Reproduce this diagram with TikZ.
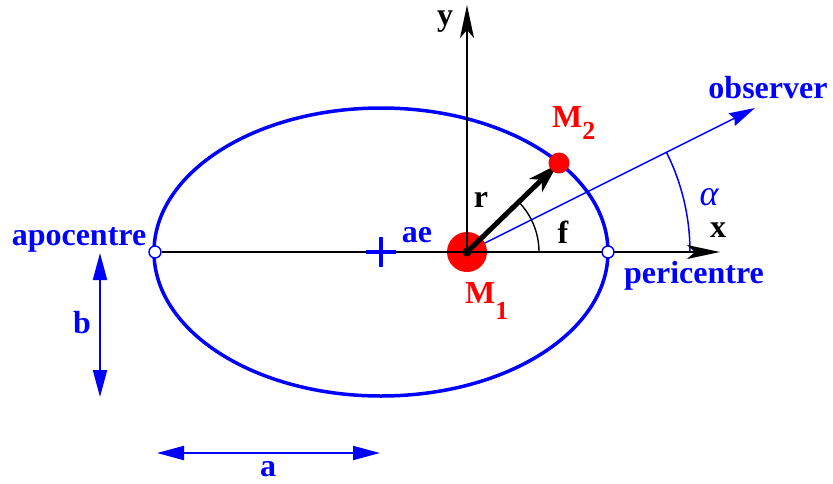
\documentclass[tikz,border=0pt]{standalone}
\usepackage{fontspec}
\setmainfont{Liberation Serif}
\usetikzlibrary{arrows.meta}
\definecolor{myblue}{RGB}{0,0,255}
\definecolor{myred}{RGB}{255,0,0}
\begin{document}
\begin{tikzpicture}[x=1pt,y=1pt,
  lbl/.style={font=\fontsize{32}{36}\selectfont\bfseries, inner sep=0pt, anchor=base},
  bluelbl/.style={lbl, text=myblue},
  redlbl/.style={lbl, text=myred, anchor=base west},
  axisline/.style={line width=1.5pt, -{Stealth[length=33pt,width=14pt,inset=8pt]}},
  dimarrow/.style={myblue, line width=2pt, {Triangle[length=27pt,width=14pt]}-{Triangle[length=27pt,width=14pt]}},
  apsis/.style={circle, draw=myblue, fill=white, line width=1.4pt, minimum size=12pt, inner sep=0pt}
]
\useasboundingbox (0,0) rectangle (833,-483);
% key points
\coordinate (C) at (381,-252);
\coordinate (M1c) at (467,-252);
\coordinate (M2c) at (559,-163);
\coordinate (xtip) at (720,-252);
\coordinate (ytip) at (467,-5);
\coordinate (obs) at (755,-108);
% observer line and alpha arc
\draw[myblue, line width=1.5pt, -{Stealth[length=26pt,width=14pt,inset=3pt]}] (M1c) -- (obs);
\draw[myblue, line width=1.5pt] (690,-252) arc[start angle=0, end angle=26.5, radius=223];
% orbit
\draw[myblue, line width=3.5pt] (C) ellipse [x radius=227, y radius=144];
% central body
\node[circle, fill=myred, minimum size=40pt, inner sep=0pt] (M1) at (M1c) {};
% apsides
\node[apsis] (apo) at (155,-252) {};
% axes
\draw[axisline] (apo.east) -- (xtip);
\draw[axisline] (M1c) -- (ytip);
\node[apsis] (peri) at (608,-252) {};
% angle f
\draw[line width=1.4pt] (539,-252) arc[start angle=0, end angle=44, radius=72];
% radius vector
\draw[line width=5pt, -{Stealth[length=30pt,width=18pt,inset=8pt]}, shorten >=2pt] (M1c) -- (M2c);
\node[circle, fill=black, minimum size=9pt, inner sep=0pt] (dot) at (M1c) {};
\node[circle, fill=myred, minimum size=21pt, inner sep=0pt] (M2) at (M2c) {};
% centre cross
\draw[myblue, line width=3.5pt] (366,-252) -- (396,-252);
\draw[myblue, line width=3.5pt] (381,-237) -- (381,-267);
% dimension arrows
\coordinate (bt) at (100,-253);
\coordinate (bb) at (100,-397);
\coordinate (al) at (157,-453);
\coordinate (ar) at (380,-453);
\draw[dimarrow] (bt) -- (bb);
\draw[dimarrow] (al) -- (ar);
% labels
\node[lbl] (ylbl) at (445,-25) {y};
\node[lbl] (xlbl) at (718,-237) {x};
\node[lbl] (rlbl) at (481,-207) {r};
\node[lbl] (flbl) at (563,-243) {f};
\node[bluelbl] (apolbl) at (79,-245) {apocentre};
\node[bluelbl] (perilbl) at (694,-283) {pericentre};
\node[bluelbl] (obslbl) at (768,-98) {observer};
\node[bluelbl] (aelbl) at (417,-242) {ae};
\node[bluelbl] (blbl) at (82,-333) {b};
\node[bluelbl] (albl) at (268,-476) {a};
\node[lbl, text=myblue, font=\fontsize{36}{40}\selectfont\itshape] (alphalbl) at (709,-205) {α};
\node[redlbl] (m1lbl) at (465,-303) {M\raisebox{-16pt}{\fontsize{26}{26}\selectfont 1}};
\node[redlbl] (m2lbl) at (552,-127) {M\raisebox{-12pt}{\fontsize{26}{26}\selectfont 2}};
\end{tikzpicture}
\end{document}
